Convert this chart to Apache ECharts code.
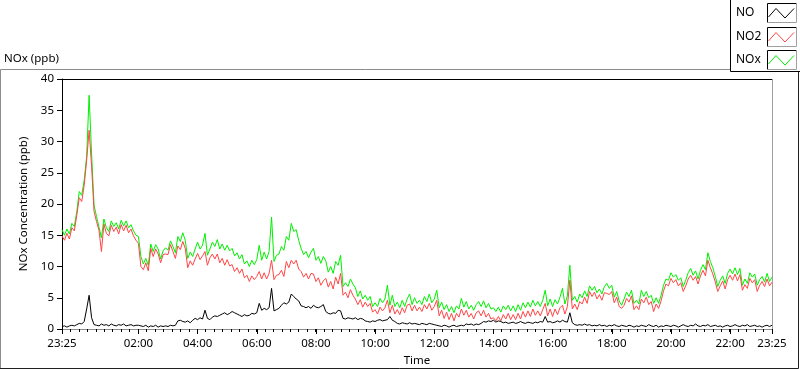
<!DOCTYPE html>
<html><head><meta charset="utf-8">
<script src="https://cdn.jsdelivr.net/npm/echarts@6/dist/echarts.min.js"></script>
<style>html,body{margin:0;padding:0;background:#fff}#c{width:800px;height:369px}</style>
</head><body><div id="c"></div>
<script>
// Sampling: every 5 minutes starting 23:25, for 24 h (289 samples)
const startTime = '23:25';
const stepMinutes = 5;

const noxVals = [
 15.9,15.0,16.0,15.2,16.9,16.4,18.8,
 22.0,21.4,23.8,27.6,37.4,28.0,19.8,18.0,16.3,14.6,17.6,16.2,
 15.6,17.3,16.4,17.0,16.0,17.4,16.5,17.3,16.2,16.7,15.7,15.0,
 14.8,11.6,10.4,11.3,10.2,13.6,12.4,13.5,12.8,11.2,12.5,13.0,
 12.6,14.1,13.2,12.2,14.8,14.0,15.4,14.2,11.3,12.3,11.6,12.8,
 13.9,12.8,13.4,15.3,11.8,12.8,13.9,13.2,14.3,12.8,13.6,12.6,
 13.4,12.5,12.9,11.7,12.2,11.2,11.9,10.4,10.9,10.0,11.0,10.3,
 11.1,13.4,11.0,12.3,11.2,12.4,17.9,10.8,11.8,12.0,13.2,12.6,
 14.8,14.2,16.9,15.6,15.9,14.2,12.9,11.9,12.4,11.4,12.3,12.9,
 11.0,11.6,10.5,11.6,10.9,9.1,10.0,8.9,10.8,10.2,11.8,6.8,
 7.4,6.8,8.0,7.2,6.6,5.2,6.1,4.8,5.4,4.6,5.2,3.6,
 4.2,3.6,4.9,4.2,4.8,7.0,3.8,5.4,3.6,4.3,3.4,4.6,
 3.6,4.8,5.6,3.9,5.0,4.1,4.6,3.9,5.2,4.4,5.6,4.2,
 4.8,6.2,3.4,4.3,3.1,3.9,2.8,3.6,2.6,3.7,3.2,4.9,
 3.5,4.4,3.2,3.8,3.0,3.9,4.4,3.6,4.5,3.4,4.1,3.2,
 3.4,2.8,3.5,2.7,3.7,3.1,3.8,2.9,3.7,2.8,3.9,3.0,
 4.2,3.4,4.3,3.5,4.6,3.7,4.4,3.6,4.6,6.2,3.7,4.8,
 3.6,4.7,4.0,5.1,6.5,4.0,5.3,10.2,4.6,5.2,4.3,5.6,
 5.0,6.1,5.2,6.9,6.2,6.8,5.8,6.4,5.6,6.8,7.3,6.5,
 7.0,5.1,6.0,4.5,3.8,4.8,5.9,5.2,6.2,4.1,4.6,4.0,
 6.2,5.2,6.0,5.0,5.4,4.1,5.0,4.1,5.4,7.0,8.0,7.8,
 9.0,8.3,8.7,7.8,8.2,6.8,7.8,9.0,9.7,8.6,9.3,8.0,
 9.4,10.3,9.5,12.2,10.8,9.8,8.4,6.8,7.8,8.5,7.3,8.9,
 9.6,8.8,9.8,8.7,9.7,7.0,8.0,7.3,9.0,8.3,8.8,7.0,
 7.9,8.4,7.5,8.9,7.6,8.3
];

const no2Vals = [
 14.9,14.2,15.3,14.4,16.2,15.7,18.2,
 21.0,20.4,23.0,27.0,31.8,26.0,18.8,17.2,15.8,12.4,16.8,15.3,
 14.9,16.6,15.6,16.3,15.2,16.7,15.7,16.6,15.4,16.0,14.9,14.2,
 13.7,10.0,9.5,10.6,9.3,12.9,11.6,12.8,12.0,10.6,11.9,12.0,
 11.9,13.5,12.4,11.3,13.3,12.7,14.0,12.9,9.8,10.9,10.2,11.2,
 12.1,11.1,11.7,12.4,10.2,11.4,12.0,11.2,12.0,10.6,11.3,10.2,
 11.1,10.1,10.3,9.2,9.8,8.9,9.6,8.2,8.6,7.6,8.5,7.9,
 8.4,9.2,8.0,9.0,8.0,8.9,11.0,7.9,8.6,8.7,9.4,8.4,
 10.8,9.8,11.0,10.4,11.0,9.6,9.2,8.3,8.9,8.0,8.9,8.8,
 7.6,8.2,7.0,7.7,8.1,6.7,7.6,6.4,8.3,7.2,8.9,5.4,
 5.9,5.0,6.3,5.4,4.8,3.9,4.7,3.5,4.3,3.6,4.1,2.7,
 3.1,2.4,3.5,2.9,3.4,4.6,2.6,3.8,2.4,3.1,2.3,3.4,
 2.6,3.8,4.0,2.9,3.8,2.9,3.5,2.8,3.9,3.2,4.1,3.0,
 3.6,4.6,2.1,3.0,1.7,2.7,1.5,2.5,1.3,2.5,1.9,3.2,
 2.2,3.0,1.9,2.5,1.6,2.6,2.9,2.1,3.0,1.9,2.5,1.6,
 1.8,1.3,2.0,1.3,2.3,1.6,2.5,1.5,2.3,1.5,2.5,1.6,
 2.8,1.9,2.9,2.0,3.2,2.2,2.9,2.1,3.1,4.1,2.1,3.2,
 2.0,3.2,2.3,3.4,3.8,2.4,3.6,7.8,3.2,4.0,3.1,4.4,
 4.0,5.1,4.1,6.0,5.2,5.9,4.8,5.5,4.6,5.8,5.7,5.5,
 6.0,4.2,5.1,3.6,3.3,3.8,4.9,4.3,5.3,3.1,3.7,3.1,
 4.8,4.2,5.1,3.9,4.4,2.8,4.0,3.3,4.5,6.1,7.2,6.9,
 8.1,7.4,7.9,6.9,7.4,6.0,6.9,8.0,8.6,7.8,8.4,7.2,
 8.5,9.4,8.5,11.0,9.8,8.8,7.5,6.0,6.9,7.7,6.4,7.9,
 8.6,7.8,8.8,7.7,8.7,6.2,7.1,6.5,8.1,7.4,7.9,6.0,
 7.0,7.6,6.8,8.0,6.9,7.5
];

const noVals = [
 0.4,0.5,0.3,0.5,0.6,0.5,0.7,
 0.9,0.8,1.2,3.2,5.4,1.8,0.7,0.6,0.5,0.8,0.6,0.7,
 0.5,0.8,0.6,0.5,0.7,0.6,0.8,0.5,0.6,0.7,0.5,0.6,
 0.6,0.5,0.4,0.6,0.3,0.5,0.4,0.6,0.3,0.5,0.4,0.5,
 0.4,0.6,0.5,0.6,1.3,1.4,1.2,1.1,1.3,1.0,1.4,1.7,
 1.5,1.8,1.6,3.0,1.7,1.5,1.9,2.1,2.0,2.2,2.4,2.6,
 2.3,2.5,2.8,2.6,2.4,2.2,2.0,2.3,2.1,2.2,2.5,2.4,
 2.6,4.1,3.0,3.3,3.1,3.4,6.5,2.9,3.1,3.3,3.8,4.2,
 4.0,4.3,5.6,5.2,4.8,4.5,3.7,3.6,3.4,3.6,3.3,3.8,
 3.5,3.4,3.6,3.9,2.8,2.5,2.4,2.6,2.5,3.0,2.9,1.7,
 1.6,1.8,1.7,1.6,1.8,1.5,1.7,1.6,1.3,1.2,1.1,1.3,
 1.2,1.4,1.5,1.3,1.4,1.5,2.0,1.4,1.2,0.9,0.8,1.0,
 0.9,0.8,1.0,0.8,0.9,0.8,0.7,0.9,0.8,0.7,0.9,0.8,
 0.7,0.6,0.5,0.4,0.6,0.5,0.3,0.5,0.6,0.4,0.5,0.6,
 0.5,0.8,0.7,0.8,0.6,0.8,0.7,0.9,1.2,1.1,1.3,1.2,
 1.4,1.1,1.3,1.2,1.0,1.1,0.9,1.0,1.1,0.9,1.0,1.2,
 1.0,0.9,1.1,1.0,0.9,1.1,1.0,1.2,1.1,2.0,1.1,1.2,
 1.0,1.1,1.3,1.1,1.4,1.2,1.1,2.6,1.0,0.7,0.6,0.7,
 0.6,0.8,0.6,0.7,0.5,0.6,0.5,0.7,0.5,0.6,0.4,0.6,
 0.5,0.7,0.5,0.4,0.6,0.5,0.4,0.6,0.5,0.3,0.5,0.4,
 0.6,0.5,0.4,0.7,0.5,0.4,0.6,0.3,0.5,0.4,0.6,0.5,
 0.4,0.6,0.5,0.3,0.5,0.7,0.5,0.4,0.6,0.5,0.8,0.5,
 0.4,0.6,0.5,0.7,0.4,0.5,0.6,0.4,0.5,0.3,0.5,0.6,
 0.4,0.5,0.7,0.5,0.4,0.6,0.5,0.7,0.4,0.5,0.6,0.4,
 0.5,0.3,0.5,0.6,0.4,0.6
];

// x tick positions in minutes after 23:25, and their labels
const xTickMinutes = [0,155,275,395,515,635,755,875,995,1115,1235,1355,1440];
const xTickLabels = ['23:25','02:00','04:00','06:00','08:00','10:00','12:00','14:00','16:00','18:00','20:00','22:00','23:25'];
const seriesNames = ['NO','NO2','NOx'];

const FONT = 'Noto Sans';
const toPairs = arr => arr.map((v, i) => [i * stepMinutes, v]);
const totalMinutes = (noxVals.length - 1) * stepMinutes;
const minorTicks = [];
for (let k = 0; k <= 84; k++) minorTicks.push(k * totalMinutes / 84);

const chart = echarts.init(document.getElementById('c'), null, {renderer: 'canvas'});
const L = 62, R = 772, T = 79, B = 329;

function zig(x, y) {
  return [[x + 1.5, y + 14], [x + 9, y + 5.5], [x + 18, y + 15], [x + 27, y + 5.5]];
}
const legendColors = ['#000000', '#ff4646', '#00f000'];
const legendTops = [3, 27, 50];
const legendGraphics = [];
legendGraphics.push({type: 'rect', shape: {x: 730.5, y: -2, width: 80, height: 73.5},
  style: {fill: '#fff', stroke: '#000', lineWidth: 1}, z: 10});
seriesNames.forEach((n, i) => {
  const y0 = legendTops[i];
  legendGraphics.push({type: 'text', x: 736, y: y0 + 10, z: 11,
    style: {text: n, font: '12px ' + FONT, fill: '#000', verticalAlign: 'middle', textAlign: 'left'}});
  legendGraphics.push({type: 'polyline', z: 11, shape: {points: [[767.5, y0 + 19.5], [767.5, y0 + 0.5], [796.5, y0 + 0.5]]},
    style: {stroke: '#000', fill: null, lineWidth: 1}});
  legendGraphics.push({type: 'polyline', z: 11, shape: {points: [[767.5, y0 + 19.5], [796.5, y0 + 19.5], [796.5, y0 + 0.5]]},
    style: {stroke: '#a0a0a0', fill: null, lineWidth: 1}});
  legendGraphics.push({type: 'polyline', z: 12, shape: {points: zig(767, y0)},
    style: {stroke: legendColors[i], fill: null, lineWidth: 1}});
});

const option = {
  animation: false,
  backgroundColor: '#ffffff',
  textStyle: {fontFamily: FONT},
  grid: {left: L, right: 800 - R, top: T, bottom: 369 - B, containLabel: false, outerBoundsMode: 'none'},
  xAxis: [{
    type: 'value', min: 0, max: totalMinutes,
    name: 'Time', nameLocation: 'middle', nameGap: 24,
    nameTextStyle: {color: '#000', fontSize: 11.5, fontFamily: FONT},
    axisLine: {show: true, lineStyle: {color: '#8c8c8c', width: 1}},
    axisTick: {show: true, length: 5, customValues: xTickMinutes, lineStyle: {color: '#000'}},
    axisLabel: {show: true, customValues: xTickMinutes, margin: 9, color: '#000', fontSize: 11.5, fontFamily: FONT,
      formatter: v => { const k = xTickMinutes.indexOf(v); return k >= 0 ? xTickLabels[k] : ''; }},
    splitLine: {show: false}
  }, {
    type: 'value', min: 0, max: totalMinutes, position: 'bottom', gridIndex: 0,
    axisLine: {show: false},
    axisTick: {show: true, length: 3, customValues: minorTicks, lineStyle: {color: '#000'}},
    axisLabel: {show: false},
    splitLine: {show: false}
  }],
  yAxis: {
    type: 'value', min: 0, max: 40, interval: 5,
    name: 'NOx Concentration (ppb)', nameLocation: 'middle', nameGap: 24, nameRotate: 90,
    nameTextStyle: {color: '#000', fontSize: 11.5, fontFamily: FONT},
    axisLine: {show: true, lineStyle: {color: '#000', width: 1}},
    axisTick: {show: true, length: 5, lineStyle: {color: '#000'}},
    axisLabel: {margin: 8, color: '#000', fontSize: 11.5, fontFamily: FONT},
    splitLine: {show: false}
  },
  series: [
    {name: 'NOx', type: 'line', data: toPairs(noxVals), showSymbol: false, symbol: 'none',
      lineStyle: {color: '#00f000', width: 1}, itemStyle: {color: '#00f000'}, z: 2},
    {name: 'NO2', type: 'line', data: toPairs(no2Vals), showSymbol: false, symbol: 'none',
      lineStyle: {color: '#ff4646', width: 1}, itemStyle: {color: '#ff4646'}, z: 3},
    {name: 'NO', type: 'line', data: toPairs(noVals), showSymbol: false, symbol: 'none',
      lineStyle: {color: '#000000', width: 1}, itemStyle: {color: '#000'}, z: 4}
  ],
  graphic: [
    {type: 'text', x: 4, y: 59, style: {text: 'NOx (ppb)', font: '11.5px ' + FONT, fill: '#000', verticalAlign: 'middle'}},
    {type: 'polyline', shape: {points: [[0.5, 368], [0.5, 69.5], [731, 69.5]]}, style: {stroke: '#8c8c8c', fill: null, lineWidth: 1}},
    {type: 'polyline', shape: {points: [[0, 368.5], [798.5, 368.5], [798.5, 71]]}, style: {stroke: '#202020', fill: null, lineWidth: 1}},
    {type: 'line', shape: {x1: L, y1: T + 0.5, x2: R, y2: T + 0.5}, style: {stroke: '#000', lineWidth: 1}},
    {type: 'line', shape: {x1: R + 0.5, y1: T, x2: R + 0.5, y2: B}, style: {stroke: '#a0a0a0', lineWidth: 1}},
    ...legendGraphics
  ]
};
chart.setOption(option);
</script></body></html>
